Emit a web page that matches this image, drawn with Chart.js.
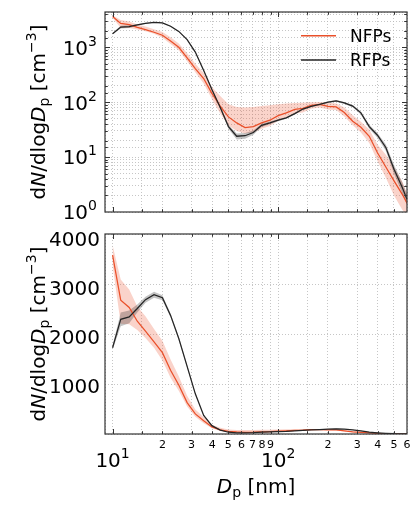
<!DOCTYPE html>
<html>
<head>
<meta charset="utf-8">
<script src="https://cdn.jsdelivr.net/npm/chart.js@4.4.1/dist/chart.umd.min.js"></script>
<style>
  html, body { margin: 0; padding: 0; background: #fff; }
  #wrap { position: relative; width: 411px; height: 506px; }
  canvas { position: absolute; left: 0; }
  #top { top: 0; }
  #bot { top: 222px; }
</style>
</head>
<body>
<div id="wrap">
  <canvas id="top" width="411" height="222"></canvas>
  <canvas id="bot" width="411" height="284"></canvas>
</div>
<script>
// particle diameter bins [nm]
const diam = [10.0, 11.2, 12.6, 14.1, 15.8, 17.8, 20.0, 22.4, 25.1, 28.2, 31.6, 35.5, 39.8, 44.7, 50.1, 56.2, 63.1, 70.8, 79.4, 89.1,
  100, 112, 126, 141, 158, 178, 200, 224, 251, 282, 316, 355, 398, 447, 501, 562, 600];

// NFPs mean and band
const nfps = [3650, 2730, 2580, 2300, 2100, 1880, 1660, 1300, 1000, 640, 410, 270, 145, 85, 54, 42, 34.5, 36, 42, 47,
  57, 64, 74, 77, 88, 91, 84, 82, 65, 45, 35, 24, 12, 6.6, 3.7, 2.1, 1.45];
const nfpsLow = [3450, 2250, 2240, 2120, 1960, 1760, 1500, 1150, 880, 560, 350, 220, 115, 62, 38, 30, 27, 28, 33, 37,
  46, 53, 62, 65, 76, 80, 74, 72, 55, 38, 28, 18, 8.5, 4.2, 2.0, 1.1, 0.85];
const nfpsHigh = [3850, 3150, 2950, 2600, 2400, 2140, 1900, 1520, 1180, 780, 500, 340, 190, 130, 92, 82, 80, 82, 85, 88,
  92, 95, 97, 98, 100, 101, 98, 95, 80, 58, 44, 32, 17, 11, 6.5, 3.6, 2.2];

// RFPs mean and band
const rfps = [1760, 2340, 2390, 2560, 2740, 2840, 2780, 2420, 1950, 1380, 820, 380, 170, 80, 36, 24, 24.5, 28, 38, 42,
  47, 52, 62, 75, 84, 91, 100, 106, 97, 85, 64, 36, 25, 15, 6, 2.8, 1.7];
const rfpsLow = [1720, 2200, 2260, 2480, 2680, 2780, 2730, 2380, 1910, 1350, 800, 365, 162, 76, 33, 21, 21.5, 25.5, 35.5, 39.5,
  45, 50, 60, 72, 81, 88, 97, 102, 93, 81, 60, 33, 22.5, 13, 5, 2.2, 1.35];
const rfpsHigh = [1800, 2480, 2520, 2640, 2800, 2900, 2830, 2460, 1990, 1410, 840, 395, 178, 84, 39, 27, 27.5, 30.5, 40.5, 44.5,
  49, 54, 64, 78, 87, 94, 103, 110, 101, 89, 68, 39, 27.5, 17, 7.2, 3.5, 2.1];

const seriesNames = ['NFPs', 'RFPs'];

// tick labels
const xMajorLabels = [10, 100];
const xMinorLabels = [20, 30, 40, 50, 60, 70, 80, 90, 200, 300, 400, 500, 600];
const topYLabels = [1, 10, 100, 1000];
const botYLabels = [1000, 2000, 3000, 4000];

const red = '#ea502a';
const redBand = 'rgba(235,85,50,0.26)';
const black = '#242424';
const greyBand = 'rgba(40,40,40,0.28)';
const frameColor = '#333';
const gridColor = '#b8b8b8';
const FONT = '"DejaVu Sans", "Liberation Sans", sans-serif';

function pts(vals) {
  return diam.map((d, i) => ({ x: d, y: vals[i] }));
}

function fnt(size, italic) {
  return (italic ? 'italic ' : '') + size + 'px ' + FONT;
}

// draw mixed text (italic, sub/superscript) with its baseline at y
function drawRich(ctx, parts, x, y, size, align) {
  let w = 0;
  parts.forEach(p => {
    p.s = (p.sub || p.sup) ? size * 0.7 : size;
    ctx.font = fnt(p.s, p.it);
    p.w = ctx.measureText(p.t).width;
    w += p.w;
  });
  let cx = align === 'right' ? x - w : align === 'center' ? x - w / 2 : x;
  ctx.textAlign = 'left';
  ctx.textBaseline = 'alphabetic';
  parts.forEach(p => {
    ctx.font = fnt(p.s, p.it);
    const dy = p.sup ? -size * 0.45 : p.sub ? size * 0.22 : 0;
    ctx.fillText(p.t, cx, y + dy);
    cx += p.w;
  });
}

function isPow10(v) {
  const l = Math.log10(v);
  return Math.abs(l - Math.round(l)) < 1e-9;
}

const yTitle = [{ t: 'd' }, { t: 'N', it: true }, { t: '/dlog' }, { t: 'D', it: true }, { t: 'p', sub: true },
  { t: ' [cm' }, { t: '\u22123', sup: true }, { t: ']' }];

const decor = {
  id: 'decor',
  afterDraw(chart, args, o) {
    const { ctx, chartArea: a, scales: { x, y } } = chart;
    ctx.save();
    ctx.strokeStyle = frameColor;
    ctx.fillStyle = '#000';
    ctx.lineWidth = 1;
    const seg = (x1, y1, x2, y2) => { ctx.beginPath(); ctx.moveTo(x1, y1); ctx.lineTo(x2, y2); ctx.stroke(); };

    // inward ticks on all four sides
    x.ticks.forEach(t => {
      const v = t.value;
      if (v <= x.min || v >= x.max) return;
      const px = Math.round(x.getPixelForValue(v)) + 0.5;
      const len = isPow10(v) ? 5 : 2.8;
      seg(px, a.bottom, px, a.bottom - len);
      seg(px, a.top, px, a.top + len);
    });
    y.ticks.forEach(t => {
      const v = t.value;
      if (v <= y.min || v >= y.max) return;
      let major;
      if (o.logY) { major = isPow10(v); }
      else { major = v % 1000 === 0; if (!major) return; }
      const len = major ? 5 : 2.8;
      const py = Math.round(y.getPixelForValue(v)) + 0.5;
      seg(a.left, py, a.left + len, py);
      seg(a.right, py, a.right - len, py);
    });

    // frame
    ctx.lineWidth = 1.2;
    ctx.strokeRect(a.left, a.top, a.right - a.left, a.bottom - a.top);

    // y tick labels
    if (o.logY) {
      topYLabels.forEach(v => {
        const py = y.getPixelForValue(v);
        drawRich(ctx, [{ t: '10' }, { t: String(Math.round(Math.log10(v))), sup: true }], 97, py + 7.3, 20, 'right');
      });
    } else {
      botYLabels.forEach(v => {
        const py = y.getPixelForValue(v);
        drawRich(ctx, [{ t: String(v) }], 100, py + 8, 20, 'right');
      });
    }

    // x tick labels (bottom panel only)
    if (o.xLabels) {
      xMinorLabels.forEach(v => {
        const px = x.getPixelForValue(v);
        const d = Math.round(v / Math.pow(10, Math.floor(Math.log10(v) + 1e-9)));
        drawRich(ctx, [{ t: String(d) }], px, a.bottom + 13.5, 11, 'center');
      });
      xMajorLabels.forEach(v => {
        const px = x.getPixelForValue(v);
        drawRich(ctx, [{ t: '10' }, { t: String(Math.round(Math.log10(v))), sup: true }], px, a.bottom + 32.5, 20, 'center');
      });
      drawRich(ctx, [{ t: 'D', it: true }, { t: 'p', sub: true }, { t: ' [nm]' }], (a.left + a.right) / 2, a.bottom + 59, 20, 'center');
    }

    // y title
    ctx.save();
    ctx.translate(45, (a.top + a.bottom) / 2);
    ctx.rotate(-Math.PI / 2);
    drawRich(ctx, yTitle.map(p => Object.assign({}, p)), 0, 0, 20, 'center');
    ctx.restore();

    // legend
    if (o.legend) {
      const rows = [[seriesNames[0], red, 35.7], [seriesNames[1], black, 60]];
      rows.forEach(([name, col, ly]) => {
        ctx.strokeStyle = col;
        ctx.lineWidth = 1.4;
        seg(301, ly, 336, ly);
        ctx.fillStyle = '#000';
        drawRich(ctx, [{ t: name }], 350, ly + 6.2, 17, 'left');
      });
    }
    ctx.restore();
  }
};

function makeChart(id, canvasH, yScale, opts) {
  const band = (vals, col, fill) => ({
    data: pts(vals), borderColor: 'rgba(0,0,0,0)', borderWidth: 0, pointRadius: 0,
    backgroundColor: col, fill: fill, order: 3, tension: 0
  });
  return new Chart(document.getElementById(id), {
    type: 'line',
    data: {
      datasets: [
        { label: seriesNames[1], data: pts(rfps), borderColor: black, borderWidth: 1.25, pointRadius: 0, fill: false, order: 0 },
        { label: seriesNames[0], data: pts(nfps), borderColor: red, borderWidth: 1.25, pointRadius: 0, fill: false, order: 1 },
        band(rfpsLow, 'rgba(0,0,0,0)', false),
        band(rfpsHigh, greyBand, '-1'),
        band(nfpsLow, 'rgba(0,0,0,0)', false),
        band(nfpsHigh, redBand, '-1')
      ]
    },
    options: {
      responsive: false,
      animation: false,
      events: [],
      layout: { autoPadding: false, padding: { left: 105, right: 4, top: 12, bottom: canvasH - 212 } },
      plugins: { legend: { display: false }, tooltip: { enabled: false }, decor: opts },
      scales: {
        x: {
          type: 'logarithmic', min: 9, max: 600,
          ticks: { display: false },
          grid: { drawTicks: false, color: gridColor, lineWidth: 0.8 },
          border: { display: false, dash: [1, 2] },
          afterFit: s => { s.height = 0; }
        },
        y: Object.assign({
          ticks: { display: false, stepSize: 1000 },
          grid: { drawTicks: false, color: gridColor, lineWidth: 0.8 },
          border: { display: false, dash: [1, 2] },
          afterFit: s => { s.width = 0; }
        }, yScale)
      }
    },
    plugins: [decor]
  });
}

makeChart('top', 222, { type: 'logarithmic', min: 1, max: 4400 }, { logY: true, legend: true, xLabels: false });
makeChart('bot', 284, { type: 'linear', min: 0, max: 4080 }, { logY: false, legend: false, xLabels: true });
</script>
</body>
</html>
